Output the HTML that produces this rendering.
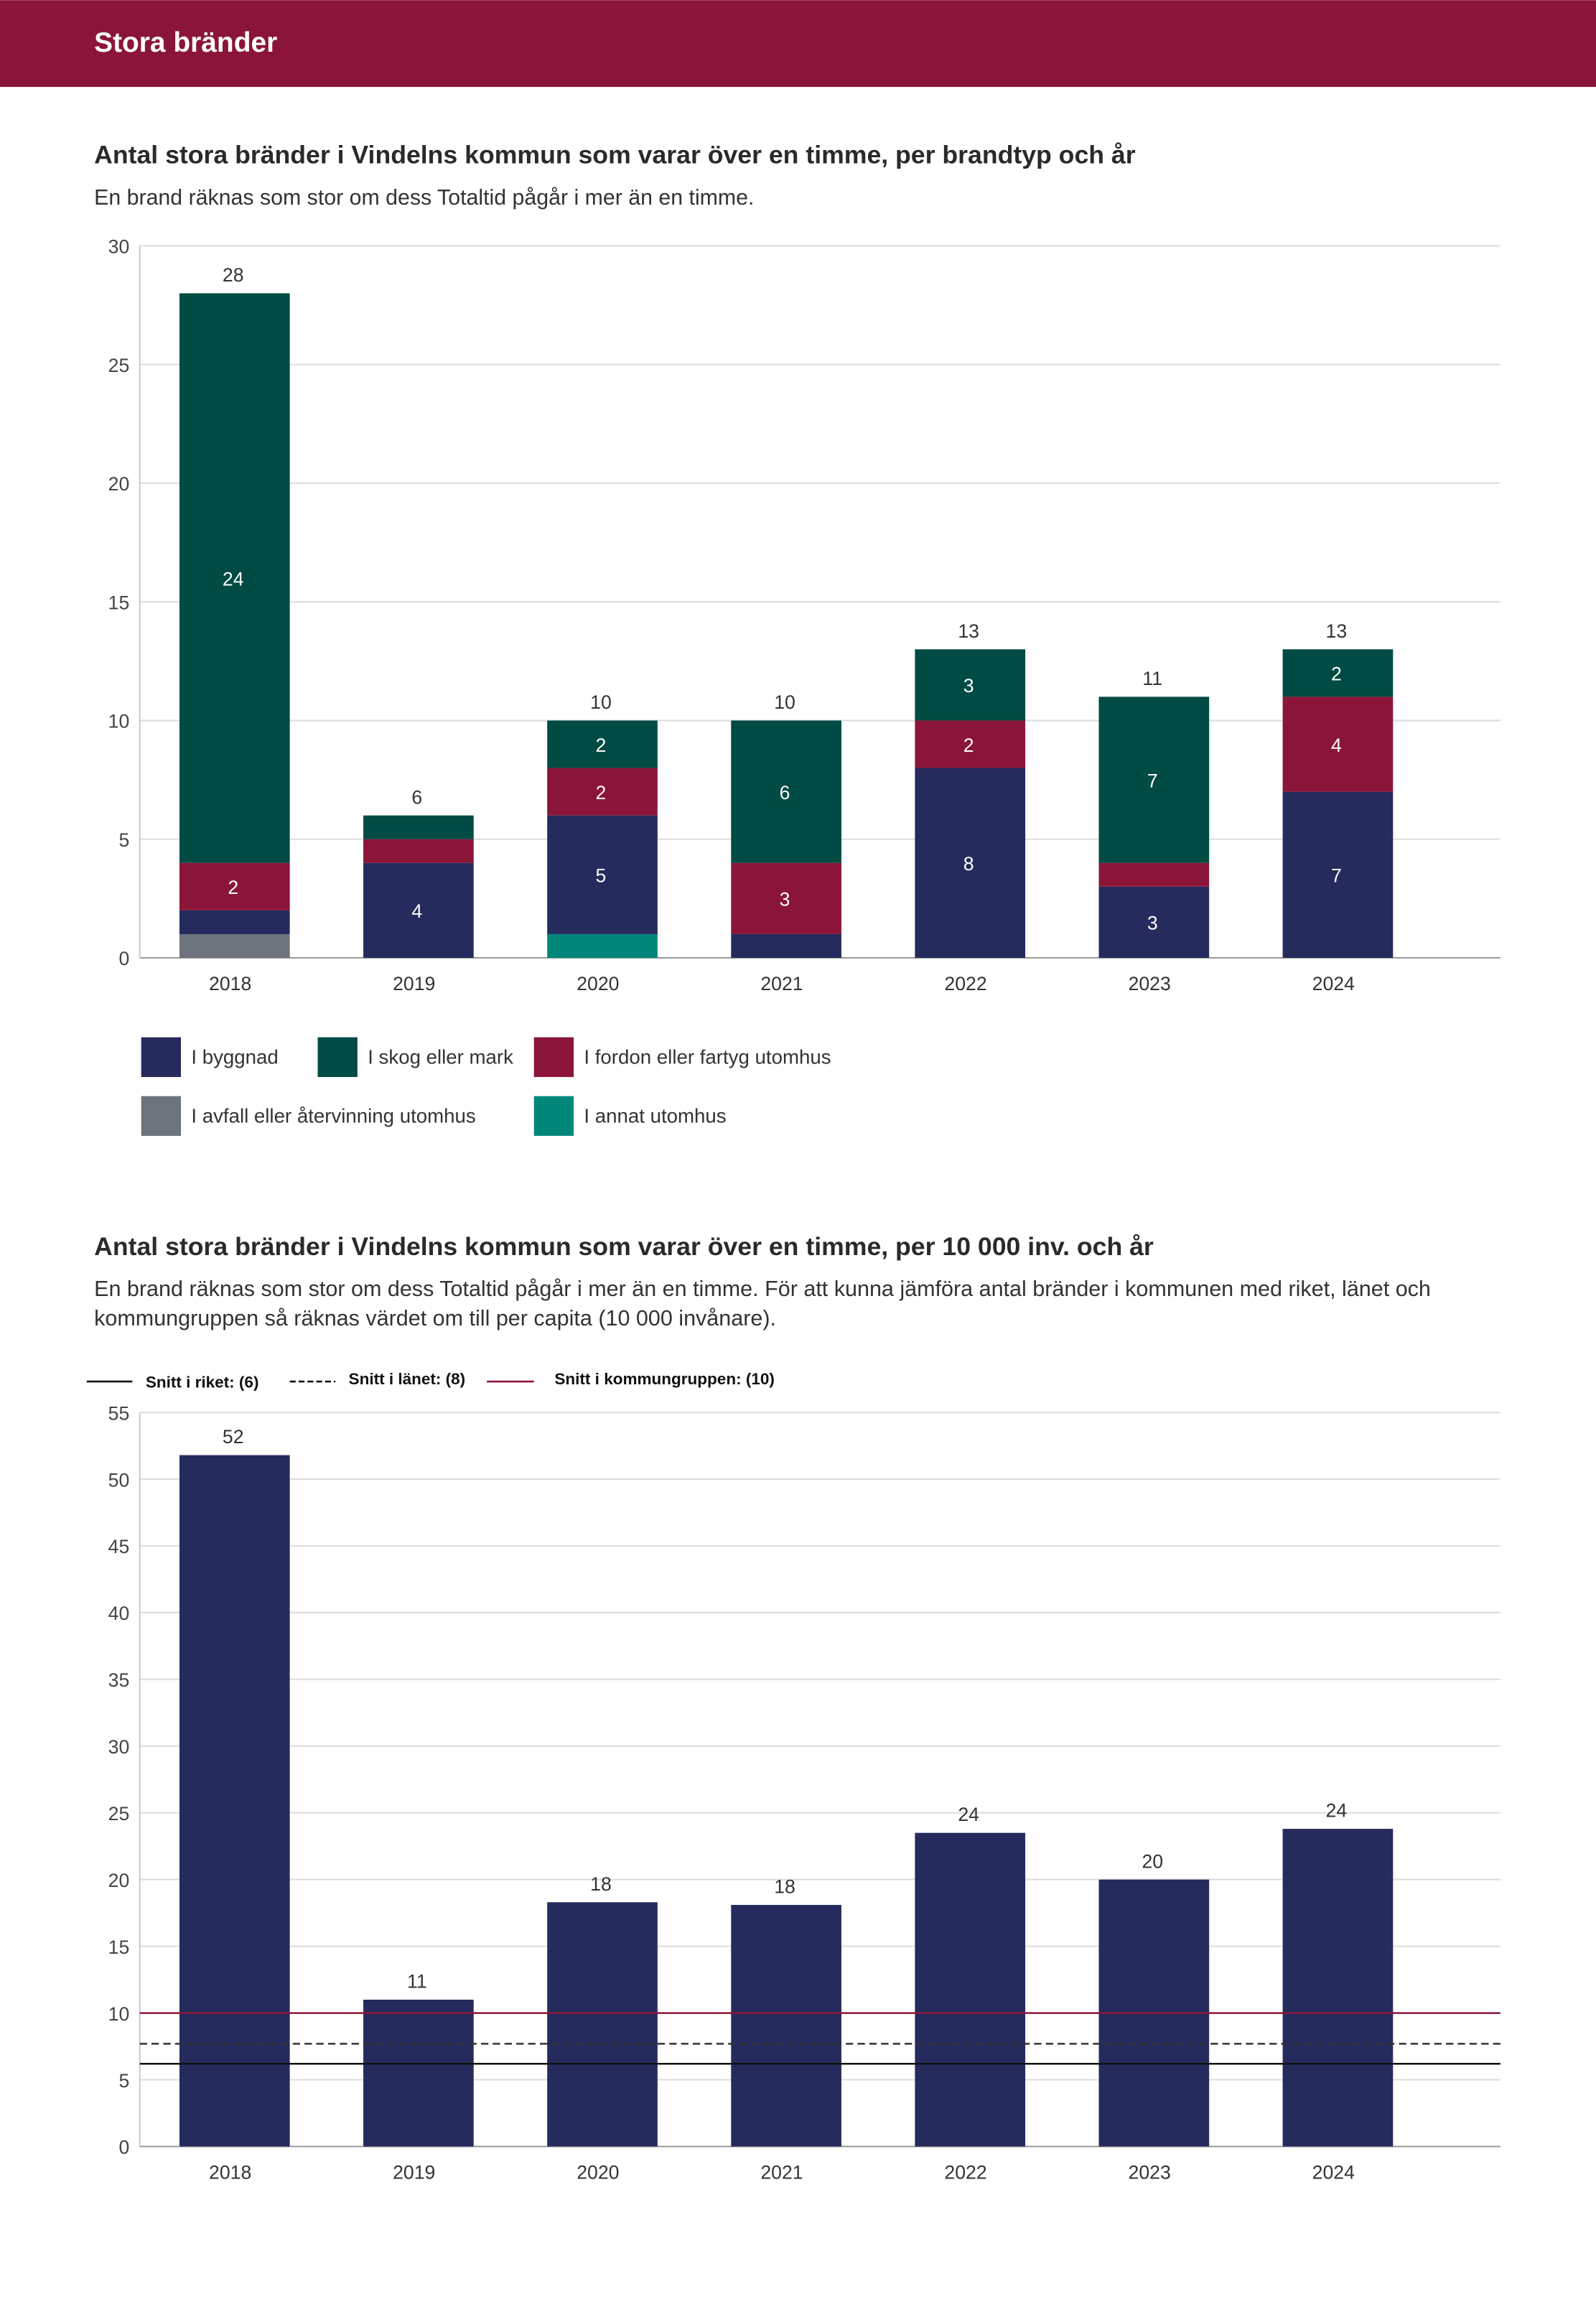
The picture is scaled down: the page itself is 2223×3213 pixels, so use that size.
<!DOCTYPE html>
<html><head><meta charset="utf-8"><style>
html,body{margin:0;padding:0;background:#fff}
svg{display:block}
text{font-family:"Liberation Sans",sans-serif}
</style></head><body>
<svg id="root" width="2223" height="3213" viewBox="0 0 1085 1568" xmlns="http://www.w3.org/2000/svg">
<rect x="0" y="0" width="1085" height="59" fill="#8b1538"/>
<text x="64" y="35" font-size="19" font-weight="bold" fill="#fff">Stora bränder</text>
<text x="64" y="111" font-size="17.4" font-weight="bold" fill="#2a2a2a">Antal stora bränder i Vindelns kommun som varar över en timme, per brandtyp och år</text>
<text x="64" y="139" font-size="14.8" fill="#333">En brand räknas som stor om dess Totaltid pågår i mer än en timme.</text>
<g id="c1"></g>
<g>
<g><rect x="96" y="705" width="27" height="27" fill="#252b5c"/><text x="130" y="723" font-size="13.5" fill="#333">I byggnad</text></g>
<g><rect x="216" y="705" width="27" height="27" fill="#004b43"/><text x="250" y="723" font-size="13.5" fill="#333">I skog eller mark</text></g>
<g><rect x="363" y="705" width="27" height="27" fill="#8b1538"/><text x="397" y="723" font-size="13.5" fill="#333">I fordon eller fartyg utomhus</text></g>
<g><rect x="96" y="745" width="27" height="27" fill="#6d737c"/><text x="130" y="763" font-size="13.5" fill="#333">I avfall eller återvinning utomhus</text></g>
<g><rect x="363" y="745" width="27" height="27" fill="#00877a"/><text x="397" y="763" font-size="13.5" fill="#333">I annat utomhus</text></g>
</g>
<text x="64" y="853" font-size="17.4" font-weight="bold" fill="#2a2a2a">Antal stora bränder i Vindelns kommun som varar över en timme, per 10 000 inv. och år</text>
<text x="64" y="881" font-size="14.9" fill="#333">En brand räknas som stor om dess Totaltid pågår i mer än en timme. För att kunna jämföra antal bränder i kommunen med riket, länet och</text>
<text x="64" y="901" font-size="14.9" fill="#333">kommungruppen så räknas värdet om till per capita (10 000 invånare).</text>
<g>
<g><line x1="59" y1="939" x2="90" y2="939" stroke="#111" stroke-width="1.3"/><text x="99" y="943" font-size="11" font-weight="bold" fill="#111">Snitt i riket: (6)</text></g>
<g><line x1="197" y1="939" x2="228" y2="939" stroke="#111" stroke-width="1.3" stroke-dasharray="4,2"/><text x="237" y="941" font-size="11" font-weight="bold" fill="#111">Snitt i länet: (8)</text></g>
<g><line x1="331" y1="939" x2="363" y2="939" stroke="#8b1538" stroke-width="1.3"/><text x="377" y="941" font-size="11" font-weight="bold" fill="#111">Snitt i kommungruppen: (10)</text></g>
</g>
<g id="c2"></g>
</svg>
<script>
const years = ["2018","2019","2020","2021","2022","2023","2024"];
const avfall = [1,0,0,0,0,0,0];
const annat = [0,0,1,0,0,0,0];
const byggnad = [1,4,5,1,8,3,7];
const fordon = [2,1,2,3,2,1,4];
const skog = [24,1,2,6,3,7,2];
const ticks1 = [0,5,10,15,20,25,30];
const perCapita = [51.8,11,18.3,18.1,23.5,20,23.8];
const perCapitaLabels = ["52","11","18","18","24","20","24"];
const ticks2 = [0,5,10,15,20,25,30,35,40,45,50,55];
const riket = 6.2, lanet = 7.7, kommungrupp = 10;

const NS="http://www.w3.org/2000/svg";
function mk(parent,tag,attrs,txt){const e=document.createElementNS(NS,tag);for(const k in attrs)e.setAttribute(k,attrs[k]);if(txt!==undefined)e.textContent=txt;parent.appendChild(e);return e;}
const L=95,R=1020,barW=75,step=125,x0=159.5;
const xc=i=>x0+i*step;

const c1=document.getElementById('c1');
const y1=v=>651-v*(651-167)/30;
ticks1.forEach(t=>{
  const g=mk(c1,'line',{x1:L,x2:R,y1:y1(t),y2:y1(t),stroke:t===0?'#999':'#ddd','stroke-width':1});
  
  
  const tx=mk(c1,'text',{x:88,y:y1(t)+5,'font-size':13,fill:'#444','text-anchor':'end'},String(t));
  
  
});
const ax1=mk(c1,'line',{x1:L,x2:L,y1:167,y2:651,stroke:'#ccc'});


const series=[[avfall,'#6d737c','avfall'],[annat,'#00877a','annat'],[byggnad,'#252b5c','byggnad'],[fordon,'#8b1538','fordon'],[skog,'#004b43','skog']];
years.forEach((yr,i)=>{
  let base=0;
  series.forEach(([arr,col,nm])=>{
    const v=arr[i]; if(!v) return;
    const r=mk(c1,'rect',{x:xc(i)-barW/2,y:y1(base+v),width:barW,height:y1(base)-y1(base+v),fill:col});
    
    
    if(v>=2){
      const t=mk(c1,'text',{x:xc(i)-1,y:(y1(base)+y1(base+v))/2+5,'font-size':13,fill:'#fff','text-anchor':'middle'},String(v));
      
      
    }
    base+=v;
  });
  const tl=mk(c1,'text',{x:xc(i)-1,y:y1(base)-8,'font-size':13,fill:'#333','text-anchor':'middle'},String(base));
  
  
  const xl=mk(c1,'text',{x:xc(i)-3,y:673,'font-size':13,fill:'#333','text-anchor':'middle'},yr);
  
  
});

const c2=document.getElementById('c2');
const y2=v=>1459-v*(1459-960)/55;
ticks2.forEach(t=>{
  const g=mk(c2,'line',{x1:L,x2:R,y1:y2(t),y2:y2(t),stroke:t===0?'#999':'#ddd','stroke-width':1});
  
  
  const tx=mk(c2,'text',{x:88,y:y2(t)+5,'font-size':13,fill:'#444','text-anchor':'end'},String(t));
  
  
});
const ax2=mk(c2,'line',{x1:L,x2:L,y1:960,y2:1459,stroke:'#ccc'});


years.forEach((yr,i)=>{
  const v=perCapita[i];
  const r=mk(c2,'rect',{x:xc(i)-barW/2,y:y2(v),width:barW,height:y2(0)-y2(v),fill:'#252b5c'});
  
  
  const t=mk(c2,'text',{x:xc(i)-1,y:y2(v)-8,'font-size':13,fill:'#333','text-anchor':'middle'},perCapitaLabels[i]);
  
  
  const xl=mk(c2,'text',{x:xc(i)-3,y:1481,'font-size':13,fill:'#333','text-anchor':'middle'},yr);
  
  
});
const lr=mk(c2,'line',{x1:L,x2:R,y1:y2(riket),y2:y2(riket),stroke:'#111','stroke-width':1.2});


const ll=mk(c2,'line',{x1:L,x2:R,y1:y2(lanet),y2:y2(lanet),stroke:'#333','stroke-width':1.2,'stroke-dasharray':'5,3'});


const lk=mk(c2,'line',{x1:L,x2:R,y1:y2(kommungrupp),y2:y2(kommungrupp),stroke:'#8b1538','stroke-width':1.2});


</script>
</body></html>
